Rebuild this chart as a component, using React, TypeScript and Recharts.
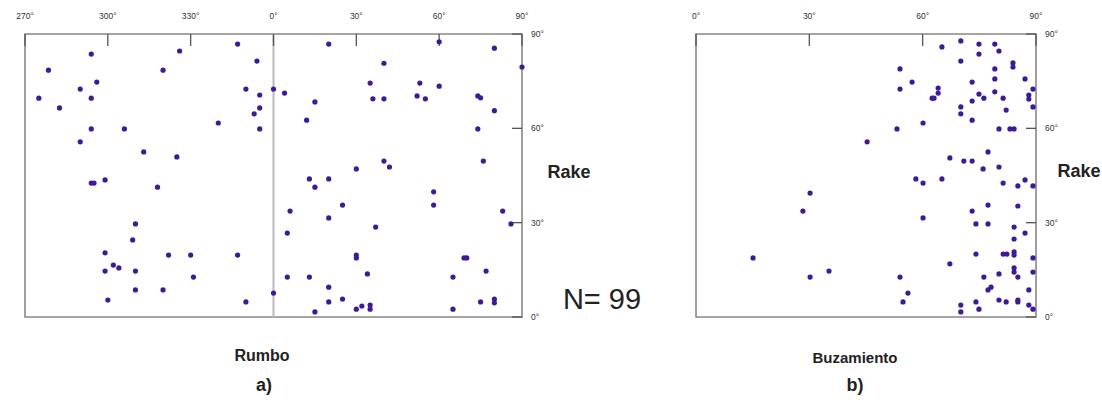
import React from "react";
import { ScatterChart, Scatter, XAxis, YAxis, ReferenceArea, ReferenceLine } from "recharts";

// a) rumbo (strike, 0-360) vs rake
const rumbo = [
  294, 278.5, 296, 290, 275, 294, 282.5, 294, 306, 290,
  313, 325, 326, 320, 347, 354, 350, 0, 355, 355,
  353, 340, 355, 294, 295, 299, 318, 310, 309, 299,
  322, 330, 347, 302, 304, 299, 310, 331, 310, 320,
  0, 300, 350, 20, 60, 80, 40, 90, 35, 53,
  60, 4, 15, 36, 40, 52, 55, 74, 75, 80,
  12, 74, 40, 42, 30, 76, 13, 20, 15, 58,
  58, 25, 6, 20, 83, 86, 37, 5, 30, 30,
  69, 70, 5, 13, 34, 65, 77, 20, 20, 25,
  30, 32, 35, 35, 15, 65, 75, 80, 80,
];
const rakeA = [
  83.6, 78.5, 74.7, 72.5, 69.6, 69.6, 66.5, 59.8, 59.8, 55.7,
  52.5, 50.9, 84.6, 78.5, 86.8, 81.4, 72.5, 72.5, 70.6, 66.5,
  64.6, 61.7, 59.8, 42.6, 42.6, 43.6, 41.3, 29.6, 24.5, 20.4,
  19.7, 19.7, 19.7, 16.5, 15.6, 14.6, 14.6, 12.7, 8.6, 8.6,
  7.6, 5.4, 4.8, 86.8, 87.5, 85.5, 80.7, 79.5, 74.4, 74.4,
  73.4, 71.2, 68.4, 69.4, 69.4, 70.3, 69.4, 70.3, 69.7, 65.6,
  62.6, 59.8, 49.6, 47.7, 47.1, 49.6, 43.9, 43.9, 41.3, 39.8,
  35.6, 35.6, 33.7, 31.5, 33.7, 29.6, 28.6, 26.7, 19.7, 18.8,
  18.8, 18.8, 12.7, 12.7, 13.7, 12.7, 14.6, 9.5, 4.8, 5.7,
  2.5, 3.5, 3.8, 2.5, 1.6, 2.5, 4.8, 5.7, 4.5,
];

// b) buzamiento (dip) vs rake
const buzamiento = [
  65.1, 70.1, 74.9, 74.9, 79.1, 80.2, 70.1, 83.9, 83.9, 54,
  79.1, 57.2, 73.1, 79.1, 87.1, 54, 64.1, 64.1, 62.5, 63,
  74.9, 76.2, 79.1, 81.3, 73.1, 89.2, 88.1, 88.1, 89.2, 82.1,
  70.1, 70.1, 73.1, 60.1, 53.2, 80.2, 83.1, 84.2, 45.3, 77.3,
  67.2, 70.9, 73.1, 76, 80.2, 58.2, 60.1, 65.1, 81.3, 85.2,
  87.1, 89.2, 77.3, 85.2, 73.1, 60.1, 74.1, 77.3, 84.2, 87.1,
  84.2, 74.1, 81.3, 82.3, 84.2, 84.2, 89.2, 67.2, 84.2, 84.2,
  89.2, 54, 76.2, 80.2, 85.2, 77.3, 78.1, 88.1, 56.1, 54.8,
  70.1, 70.1, 74.1, 74.9, 80.2, 82.1, 85.2, 85.2, 88.1, 89.2,
  30.2, 28.3, 15.1, 35.2, 30.2,
];
const rakeB = [
  85.9, 87.8, 86.8, 83.6, 86.8, 84.6, 81.4, 80.8, 79.5, 78.9,
  78.9, 74.7, 74.7, 75.7, 75.7, 72.5, 72.8, 71.2, 69.6, 69.6,
  70.9, 69.6, 71.6, 69.6, 68.7, 72.5, 70.6, 69.3, 66.8, 65.8,
  66.8, 64.6, 62.6, 61.7, 59.8, 59.8, 59.8, 59.8, 55.7, 52.5,
  50.6, 49.6, 49.6, 47.1, 47.7, 43.9, 42.6, 43.9, 42.6, 41.7,
  43.6, 41.7, 35.6, 35.3, 33.7, 31.5, 29.6, 29.6, 28.6, 26.7,
  24.8, 20, 20, 20, 20.7, 19.7, 18.8, 16.9, 15.6, 14.3,
  14.3, 12.7, 12.7, 13.7, 12.7, 8.6, 9.5, 8.6, 7.6, 4.8,
  3.8, 1.6, 4.8, 2.5, 5.4, 4.8, 5.4, 4.8, 3.8, 2.5,
  39.4, 33.7, 18.8, 14.6, 12.7,
];

const rumboTicks = [-90, -60, -30, 0, 30, 60, 90];
const buzTicks = [0, 30, 60, 90];
const rakeTicks = [0, 30, 60, 90];

// strike shown from 270 through 0 to 90
const dataA = rumbo.map((r, i) => ({ x: r > 180 ? r - 360 : r, y: rakeA[i] }));
const dataB = buzamiento.map((b, i) => ({ x: b, y: rakeB[i] }));

const font = "'Liberation Sans', Arial, sans-serif";
const dotColor = "#3d1a96";
const tickStyle = { fontSize: 8.5, fill: "#333", fontFamily: font };

const Dot = (p: any) => <circle cx={p.cx} cy={p.cy} r={2.6} fill={dotColor} />;

const deg = (v: number) => `${v < 0 ? v + 360 : v}°`;

function Panel({ data, xDomain, xTicks, left, marginLeft, width, zeroLine }: any) {
  return (
    <div style={{ position: "absolute", left, top: 0 }}>
      <ScatterChart width={width} height={330} margin={{ top: 14, right: 0, bottom: 13, left: marginLeft }}>
        {zeroLine && <ReferenceLine x={0} stroke="#bbb" strokeWidth={2} />}
        <ReferenceArea x1={xDomain[0]} x2={xDomain[1]} y1={0} y2={90} fill="none" stroke="#888" strokeWidth={1.6} />
        <XAxis type="number" dataKey="x" domain={xDomain} ticks={xTicks} orientation="top" height={20}
          tickFormatter={deg} tick={tickStyle} tickSize={-12} tickMargin={27}
          axisLine={false} tickLine={{ stroke: "#555", strokeWidth: 1.3 }} interval={0} />
        <YAxis type="number" dataKey="y" domain={[0, 90]} ticks={rakeTicks} orientation="right" width={40}
          tickFormatter={deg} tick={tickStyle} tickSize={-10} tickMargin={19}
          axisLine={false} tickLine={{ stroke: "#555", strokeWidth: 1.3 }} interval={0} />
        <Scatter data={data} shape={Dot} isAnimationActive={false} />
      </ScatterChart>
    </div>
  );
}

export default function App() {
  const label = (text: string, x: number, y: number, size: number, bold = true) => (
    <div style={{ position: "absolute", left: x, top: y, transform: "translate(-50%, -50%)", fontFamily: font,
      fontSize: size, fontWeight: bold ? "bold" : "normal", color: "#222", whiteSpace: "nowrap" }}>{text}</div>
  );
  return (
    <div style={{ position: "absolute", left: 0, top: 0, width: 1102, height: 406, background: "#fff" }}>
      <Panel data={dataA} xDomain={[-90, 90]} xTicks={rumboTicks} left={0} marginLeft={25} width={562} zeroLine />
      <Panel data={dataB} xDomain={[0, 90]} xTicks={buzTicks} left={660} marginLeft={36} width={416} />
      {label("Rake", 569, 172, 18)}
      {label("Rake", 1079, 171, 18)}
      {label("N= 99", 602, 299, 29, false)}
      {label("Rumbo", 262, 356, 16)}
      {label("a)", 264, 385, 18)}
      {label("Buzamiento", 855, 357, 15)}
      {label("b)", 855, 385, 18)}
    </div>
  );
}
